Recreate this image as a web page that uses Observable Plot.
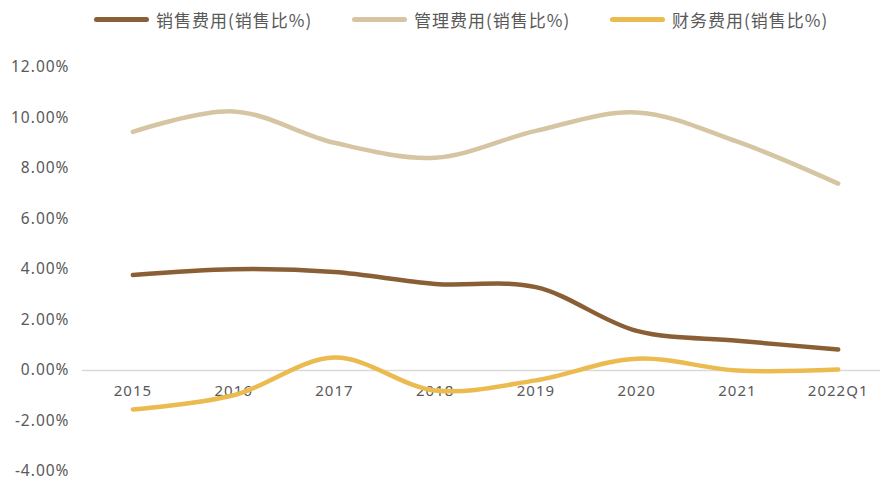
<!DOCTYPE html>
<html>
<head>
<meta charset="utf-8">
<script src="https://cdn.jsdelivr.net/npm/d3@7"></script>
<script src="https://cdn.jsdelivr.net/npm/@observablehq/plot@0.6"></script>
<style>
  body { margin: 0; background: #fff; font-family: "Noto Sans CJK SC", "Noto Sans", sans-serif; }
  #legend { height: 36px; position: relative; }
  .item { position: absolute; top: 7px; display: flex; align-items: center; font-size: 17px; letter-spacing: 1px; color: #595959; }
  .sw { width: 55px; height: 5px; border-radius: 3px; margin-right: 7px; }
  svg text { letter-spacing: 1px; }
</style>
</head>
<body>
<div id="legend"></div>
<div id="chart"></div>
<script>
const categories = ["2015", "2016", "2017", "2018", "2019", "2020", "2021", "2022Q1"];
const seriesNames = ["销售费用(销售比%)", "管理费用(销售比%)", "财务费用(销售比%)"];
const seriesColors = ["#8a5f35", "#d5c5a2", "#ebbb4f"];
const salesExp = [3.78, 4.01, 3.90, 3.43, 3.30, 1.57, 1.18, 0.83];
const adminExp = [9.45, 10.26, 9.02, 8.43, 9.49, 10.22, 9.06, 7.40];
const finExp = [-1.54, -0.98, 0.51, -0.79, -0.39, 0.47, 0.00, 0.04];
const yTicks = [-4, -2, 0, 2, 4, 6, 8, 10, 12];

const seriesValues = [salesExp, adminExp, finExp];
const table = [];
seriesValues.forEach((vals, s) => vals.forEach((v, i) => table.push({i, v, series: seriesNames[s]})));

// legend
const legend = document.getElementById("legend");
const legendX = [94, 352, 610];
seriesNames.forEach((n, s) => {
  const it = document.createElement("div");
  it.className = "item";
  it.style.left = legendX[s] + "px";
  it.innerHTML = `<div class="sw" style="background:${seriesColors[s]}"></div><span>${n}</span>`;
  legend.appendChild(it);
});

const chart = Plot.plot({
  width: 881,
  height: 446,
  marginLeft: 82,
  marginRight: 1,
  marginTop: 31,
  marginBottom: 11,
  style: {fontFamily: "'Noto Sans', 'Noto Sans CJK SC', sans-serif", fontSize: "15px", color: "#595959"},
  x: {domain: [-0.5, 7.42], axis: null},
  y: {domain: [-4, 12]},
  color: {domain: seriesNames, range: seriesColors},
  marks: [
    Plot.axisY({ticks: yTicks, tickFormat: d => d.toFixed(2) + "%", tickSize: 0, tickPadding: 13, label: null, fontSize: 15.5, fill: "#595959"}),
    Plot.ruleY([0], {stroke: "#d9d9d9", strokeWidth: 1.5}),
    Plot.text(categories, {x: (d, i) => i, y: () => 0, dy: 21, text: d => d, fontSize: 15, fill: "#595959"}),
    Plot.line(table, {x: "i", y: "v", z: "series", stroke: "series", strokeWidth: 4.5, curve: "catmull-rom", strokeLinecap: "round"})
  ]
});
document.getElementById("chart").appendChild(chart);
</script>
</body>
</html>
